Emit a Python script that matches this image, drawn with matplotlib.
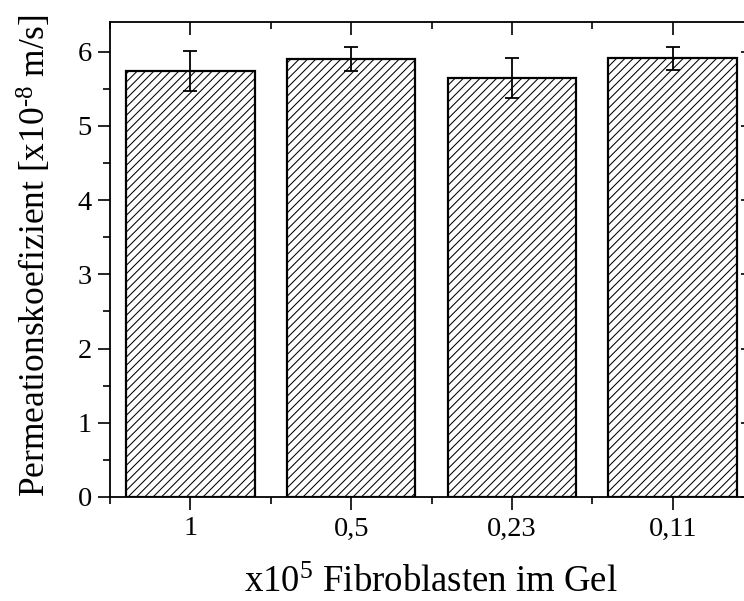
import matplotlib
matplotlib.use("Agg")
import matplotlib.pyplot as plt
from matplotlib.ticker import MultipleLocator, FixedLocator

plt.rcParams['font.family'] = ['Liberation Serif', 'DejaVu Serif']
plt.rcParams['mathtext.fontset'] = 'custom'
plt.rcParams['mathtext.rm'] = 'Liberation Serif'
plt.rcParams['mathtext.it'] = 'Liberation Serif'
plt.rcParams['hatch.linewidth'] = 0.75
plt.rcParams['hatch.color'] = '#606060'

categories = ['1', '0,5', '0,23', '0,11']
values = [5.74, 5.90, 5.64, 5.91]
errors = [0.275, 0.165, 0.27, 0.155]

fig = plt.figure(figsize=(7.44, 6.01), dpi=100)
ax = fig.add_axes([110/744, 1 - 497/601, 643/744, 475/601])

x = list(range(1, len(categories) + 1))
ax.bar(x, values, width=0.8, facecolor='white', edgecolor='black',
       linewidth=1.6, hatch='////', zorder=2)
ax.errorbar(x, values, yerr=errors, fmt='none', ecolor='black',
            elinewidth=1.3, capsize=5, capthick=1.3, zorder=3)

ax.set_xlim(0.5, 4.5)
ax.set_ylim(0, 6.4)
ax.set_xticks(x)
ax.set_xticklabels(categories)
ax.xaxis.set_minor_locator(FixedLocator([0.5, 1.5, 2.5, 3.5, 4.5]))
ax.yaxis.set_major_locator(MultipleLocator(1))
ax.yaxis.set_minor_locator(MultipleLocator(0.5))

for s in ax.spines.values():
    s.set_linewidth(1.3)

ax.tick_params(axis='both', which='major', labelsize=20.5, width=1.2, length=9, direction='out')
ax.tick_params(axis='both', which='minor', width=1.2, length=5, direction='out')
ax.tick_params(top=True, right=True, which='both')
ax.tick_params(axis='x', which='major', pad=5)
ax.tick_params(axis='y', which='major', pad=4)

for t in ax.xaxis.get_major_ticks() + ax.xaxis.get_minor_ticks():
    t.tick2line.set_marker(matplotlib.lines.TICKDOWN)
for t in ax.yaxis.get_major_ticks() + ax.yaxis.get_minor_ticks():
    t.tick2line.set_marker(matplotlib.lines.TICKLEFT)

xl = ax.set_xlabel(r'x10$^{5}$ Fibroblasten im Gel', fontsize=26.5)
yl = ax.set_ylabel('Permeationskoefizient [x10$^{\u20108}$ m/s]', fontsize=25.5)
xl.set_verticalalignment('baseline')
ax.xaxis.set_label_coords(0.499, (497 - 592) / 475)
yl.set_rotation_mode('anchor')
yl.set_verticalalignment('baseline')
yl.set_horizontalalignment('center')
ax.yaxis.set_label_coords((46 - 110) / 643, (497 - 256) / 475)

fig.savefig('out.png', dpi=100)
